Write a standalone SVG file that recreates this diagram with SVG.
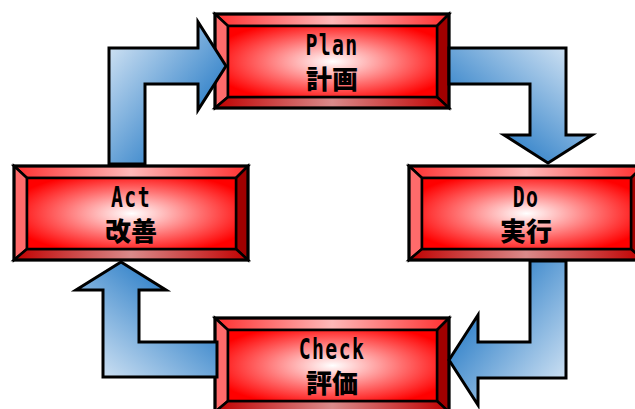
<svg xmlns="http://www.w3.org/2000/svg" xmlns:xlink="http://www.w3.org/1999/xlink" width="635" height="409" viewBox="0 0 635 409">
<style>
.ol{stroke:#000;stroke-width:3;stroke-linejoin:miter}
.bl{stroke:#000;stroke-width:2.5}
.arr{stroke:#000;stroke-width:3;stroke-linejoin:miter}
.lat{font-family:"DejaVu Sans Mono",monospace;font-weight:bold;font-size:22px;letter-spacing:1.5px;text-anchor:middle;fill:#000}
.kan{font-family:"Noto Sans CJK JP","Noto Sans CJK SC",sans-serif;font-weight:900;font-size:26px;text-anchor:middle;fill:#000}
</style>
<defs>
<radialGradient id="gin" cx="0.5" cy="0.5" r="0.6">
<stop offset="0" stop-color="#ffffff"/>
<stop offset="0.55" stop-color="#ff7070"/>
<stop offset="1" stop-color="#ff0000"/>
</radialGradient>
<linearGradient id="gtop" x1="0" y1="0" x2="1" y2="0">
<stop offset="0" stop-color="#ff3030"/>
<stop offset="0.5" stop-color="#ffb8b8"/>
<stop offset="1" stop-color="#ff3030"/>
</linearGradient>
<linearGradient id="gbot" x1="0" y1="0" x2="1" y2="0">
<stop offset="0" stop-color="#c00000"/>
<stop offset="0.5" stop-color="#d98a8a"/>
<stop offset="1" stop-color="#c00000"/>
</linearGradient>
<linearGradient id="a1" x1="0" y1="0" x2="1" y2="1">
<stop offset="0" stop-color="#e2edf8"/>
<stop offset="0.75" stop-color="#2f80c8"/>
</linearGradient>
<linearGradient id="a2" x1="1" y1="0" x2="0" y2="1">
<stop offset="0" stop-color="#e2edf8"/>
<stop offset="0.75" stop-color="#2f80c8"/>
</linearGradient>
<linearGradient id="a3" x1="1" y1="1" x2="0" y2="0">
<stop offset="0" stop-color="#e2edf8"/>
<stop offset="0.75" stop-color="#2f80c8"/>
</linearGradient>
<linearGradient id="a4" x1="0" y1="1" x2="1" y2="0">
<stop offset="0" stop-color="#e2edf8"/>
<stop offset="0.75" stop-color="#2f80c8"/>
</linearGradient>
<g id="box">
<polygon points="0,0 234,0 222,12 13,12" fill="url(#gtop)" class="bl"/>
<polygon points="0,0 13,12 13,83 0,94" fill="#ff6b6b" class="bl"/>
<polygon points="234,0 234,94 222,83 222,12" fill="#a00000" class="bl"/>
<polygon points="0,94 13,83 222,83 234,94" fill="url(#gbot)" class="bl"/>
<rect x="13" y="12" width="209" height="71" fill="url(#gin)" class="bl"/>
<rect x="0" y="0" width="234" height="94" fill="none" class="ol"/>
</g>
</defs>
<g id="plan">
<use xlink:href="#box" x="215" y="14"/>
<text class="lat" transform="translate(332,55) scale(0.9,1.25)">Plan</text>
<text class="kan" x="332" y="89">計画</text>
</g>
<g id="do">
<use xlink:href="#box" x="409" y="166"/>
<text class="lat" transform="translate(526,207) scale(0.9,1.25)">Do</text>
<text class="kan" x="526" y="241">実行</text>
</g>
<g id="check">
<use xlink:href="#box" x="215" y="318"/>
<text class="lat" transform="translate(332,359) scale(0.9,1.25)">Check</text>
<text class="kan" x="332" y="393">評価</text>
</g>
<g id="act">
<use xlink:href="#box" x="14" y="166"/>
<text class="lat" transform="translate(131,207) scale(0.9,1.25)">Act</text>
<text class="kan" x="131" y="241">改善</text>
</g>
<g id="connectors">
<polygon class="arr" fill="url(#a1)" points="109,164 109,48 198,48 198,22 226,66 198,110 198,84 145,84 145,164"/>
<polygon class="arr" fill="url(#a2)" points="449,48 566,48 566,135 592,135 548,163 504,135 530,135 530,84 449,84"/>
<polygon class="arr" fill="url(#a3)" points="530,261 566,261 566,378 478,378 478,405 449,360 478,315 478,342 530,342"/>
<polygon class="arr" fill="url(#a4)" points="121,262 166,290 139,290 139,342 217,342 217,377 103,377 103,290 76,290"/>
</g>
</svg>
